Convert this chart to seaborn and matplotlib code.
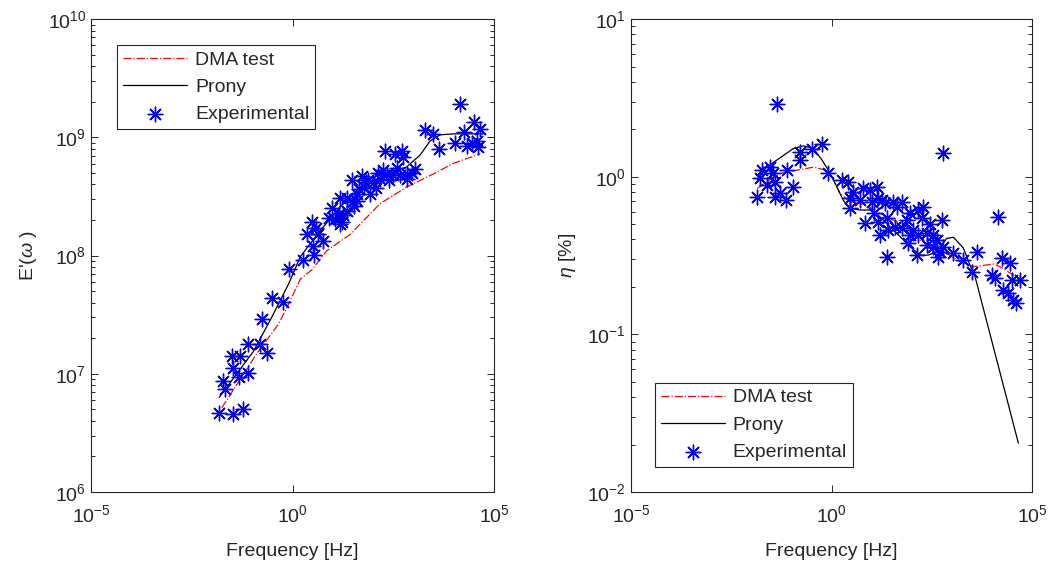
import numpy as np
import pandas as pd
import matplotlib
matplotlib.use("Agg")
import matplotlib.pyplot as plt
import seaborn as sns
from matplotlib.ticker import LogLocator, NullLocator, NullFormatter, FixedLocator

# ---------------- data ----------------
# Left panel: storage modulus E'(w)
exp_f_E = [0.0151, 0.0339, 0.0603, 0.0191, 0.0209, 0.0457, 0.0794, 0.0339, 0.0309, 0.0501,
           0.0794, 0.155, 0.229, 0.174, 0.302, 0.575, 0.794, 1.86, 3.31, 3.16,
           2.24, 3.09, 4.37, 3.80, 7.76, 11.2, 16.6, 13.8, 18.2, 15.1,
           15.1, 21.9, 29.5, 32.4, 29.5, 38.9, 53.7, 57.5, 83.2, 75.9,
           100, 148, 174, 219, 200, 347, 513, 562, 316, 468,
           676, 676, 1096, 1950, 3090, 4170, 10700, 14500, 17400, 20900,
           30900, 37200, 44700, 28200, 40700, 9.33, 22.4, 44.7, 66.1, 117,
           251, 398, 891, 5.62, 39.8, 132]
exp_E = [4.68e6, 4.57e6, 5.01e6, 8.71e6, 7.41e6, 9.33e6, 1.02e7, 1.12e7, 1.41e7, 1.41e7,
         1.78e7, 1.78e7, 1.51e7, 2.88e7, 4.37e7, 4.07e7, 7.76e7, 9.12e7, 1.02e8, 1.20e8,
         1.51e8, 1.91e8, 1.51e8, 1.70e8, 2.09e8, 2.04e8, 1.91e8, 2.24e8, 2.19e8, 1.86e8,
         3.09e8, 3.09e8, 2.82e8, 2.63e8, 4.37e8, 3.31e8, 4.68e8, 3.80e8, 3.31e8, 4.37e8,
         4.07e8, 4.47e8, 5.25e8, 4.90e8, 7.59e8, 7.24e8, 7.59e8, 6.76e8, 4.79e8, 4.79e8,
         4.90e8, 4.47e8, 5.37e8, 1.15e9, 1.07e9, 7.94e8, 8.91e8, 1.91e9, 1.10e9, 8.51e8,
         1.35e9, 9.33e8, 1.17e9, 8.91e8, 8.32e8, 2.51e8, 2.40e8, 3.63e8, 4.17e8, 3.72e8,
         4.37e8, 5.50e8, 5.01e8, 1.32e8, 2.88e8, 5.01e8]

prony_f_E = [0.0151, 0.107, 0.275, 0.794, 1.55, 4.79, 15.1, 46.8, 219, 676,
             1450, 2570, 4570, 9770, 37200, 53700]
prony_E = [6.31e6, 1.55e7, 2.82e7, 5.75e7, 9.77e7, 1.62e8, 2.57e8, 3.80e8, 4.90e8, 5.62e8,
           7.08e8, 9.33e8, 1.05e9, 1.07e9, 1.07e9, 1.07e9]

dma_f_E = [0.0174, 0.129, 0.447, 0.794, 1.55, 3.02, 7.08, 26.9, 148, 676, 3090, 9770, 44700]
dma_E = [5.13e6, 1.48e7, 2.63e7, 3.89e7, 6.31e7, 7.59e7, 1.10e8, 1.51e8, 2.75e8, 3.80e8,
         4.90e8, 6.03e8, 7.24e8]

# Right panel: loss factor eta
exp_f_eta = [0.0141, 0.0182, 0.0166, 0.0295, 0.0355, 0.0389, 0.0389, 0.0525, 0.0741, 0.0759,
             0.107, 0.162, 0.162, 0.324, 0.575, 0.832, 1.78, 2.63, 3.47, 2.88,
             2.88, 6.17, 9.12, 13.5, 10.0, 14.8, 17.8, 21.4, 34.7, 56.2,
             42.7, 6.92, 14.8, 16.2, 26.3, 24.0, 38.0, 56.2, 75.9, 91.2,
             145, 195, 178, 110, 91.2, 145, 234, 347, 417, 562,
             234, 347, 617, 513, 132, 457, 1100, 1950, 4170, 3160,
             24.0, 617, 14500, 17400, 28200, 10000, 12000, 30900, 50100, 19100,
             25100, 33900, 0.0437, 5.01, 11.2, 79.4, 282, 0.0251, 39800]
exp_eta = [0.746, 1.10, 0.977, 1.16, 1.05, 0.929, 0.746, 0.785, 0.711, 1.10,
           0.865, 1.44, 1.28, 1.49, 1.61, 1.05, 0.953, 0.929, 0.804, 0.730,
           0.631, 0.843, 0.824, 0.865, 0.693, 0.730, 0.711, 0.678, 0.693, 0.693,
           0.646, 0.506, 0.519, 0.427, 0.459, 0.545, 0.482, 0.471, 0.531, 0.586,
           0.615, 0.646, 0.545, 0.459, 0.427, 0.427, 0.438, 0.427, 0.397, 0.531,
           0.369, 0.360, 0.360, 0.334, 0.318, 0.311, 0.327, 0.296, 0.334, 0.250,
           0.311, 1.41, 0.557, 0.303, 0.282, 0.238, 0.227, 0.221, 0.221, 0.191,
           0.182, 0.165, 2.89, 0.708, 0.589, 0.380, 0.501, 0.891, 0.158]

prony_f_eta = [0.0141, 0.0219, 0.112, 0.200, 0.355, 0.575, 0.832, 1.35, 1.95, 2.88,
               5.13, 9.12, 16.2, 28.8, 51.3, 91.2, 162, 257, 417, 741,
               1100, 1950, 2820, 3800, 45700]
prony_eta = [0.955, 1.13, 1.51, 1.57, 1.51, 1.28, 1.10, 0.865, 0.711, 0.631,
             0.615, 0.615, 0.557, 0.482, 0.417, 0.360, 0.318, 0.318, 0.334, 0.406,
             0.413, 0.352, 0.275, 0.232, 0.0204]

dma_f_eta = [0.0141, 0.0240, 0.0525, 0.135, 0.355, 0.631, 1.10, 1.62, 2.88, 7.59,
             16.2, 34.7, 75.9, 162, 347, 741, 1580, 3470, 11000, 15800, 33900, 50100]
dma_eta = [0.843, 0.929, 1.05, 1.10, 1.15, 1.11, 0.977, 0.785, 0.693, 0.661,
           0.586, 0.531, 0.482, 0.397, 0.352, 0.327, 0.289, 0.269, 0.279, 0.269, 0.238, 0.232]

# ---------------- style ----------------
sns.set_theme(style="ticks")
plt.rcParams['font.family'] = ['Liberation Sans', 'DejaVu Sans']
plt.rcParams['mathtext.fontset'] = 'custom'
plt.rcParams['mathtext.rm'] = 'Liberation Sans'
plt.rcParams['mathtext.it'] = 'Liberation Sans:italic'
plt.rcParams['mathtext.default'] = 'regular'
plt.rcParams['axes.unicode_minus'] = False

GRAY = '#262626'
FS = 14

fig = plt.figure(figsize=(10.61, 5.67), dpi=100)
ax1 = fig.add_axes([0.0858, 0.1323, 0.380, 0.834])
ax2 = fig.add_axes([0.5947, 0.1323, 0.378, 0.834])


def draw(ax, fd, yd, fp, yp, fe, ye):
    sns.lineplot(x=fd, y=yd, ax=ax, color='red', linestyle='-.', linewidth=0.9,
                 sort=False, estimator=None, label='DMA test')
    sns.lineplot(x=fp, y=yp, ax=ax, color='black', linestyle='-', linewidth=0.9,
                 sort=False, estimator=None, label='Prony')
    sns.scatterplot(x=fe, y=ye, ax=ax, marker=(8, 2, 0), s=110, color='blue',
                    linewidth=1.0, label='Experimental', zorder=3)
    ax.set_xscale('log')
    ax.set_yscale('log')
    ax.set_xlim(1e-5, 1e5)
    ax.xaxis.set_major_locator(FixedLocator([1e-5, 1, 1e5]))
    ax.xaxis.set_minor_locator(NullLocator())
    ax.yaxis.set_major_locator(LogLocator(base=10, numticks=20))
    ax.yaxis.set_minor_locator(LogLocator(base=10, subs=np.arange(2, 10), numticks=20))
    ax.yaxis.set_minor_formatter(NullFormatter())
    ax.tick_params(which='both', direction='in', top=True, right=True,
                   colors=GRAY, labelsize=FS, width=0.7)
    ax.tick_params(which='major', length=5)
    ax.tick_params(which='minor', length=3)
    ax.tick_params(axis='x', which='major', pad=9)
    for sp in ax.spines.values():
        sp.set_color(GRAY)
        sp.set_linewidth(0.8)
    ax.set_xlabel('Frequency [Hz]', fontsize=FS, color=GRAY, labelpad=12)


LEG = dict(borderaxespad=0, fancybox=False, edgecolor=GRAY, framealpha=1, fontsize=FS,
           handlelength=3.3, handletextpad=0.4, labelspacing=0.5, borderpad=0.3)

draw(ax1, dma_f_E, dma_E, prony_f_E, prony_E, exp_f_E, exp_E)
ax1.set_ylim(1e6, 1e10)
ax1.set_ylabel("E'($\\mathit{\\omega}$ )", fontsize=FS, color=GRAY, labelpad=6)
ax1.legend(loc='upper left', bbox_to_anchor=(0.065, 0.945), **LEG)

draw(ax2, dma_f_eta, dma_eta, prony_f_eta, prony_eta, exp_f_eta, exp_eta)
ax2.set_ylim(1e-2, 1e1)
ax2.set_ylabel("$\\mathit{\\eta}$ [%]", fontsize=FS, color=GRAY, labelpad=7)
ax2.legend(loc='lower left', bbox_to_anchor=(0.06, 0.053), **LEG)

for ax in (ax1, ax2):
    ax.get_legend().get_frame().set_linewidth(0.8)

fig.savefig('out.png', dpi=100)
